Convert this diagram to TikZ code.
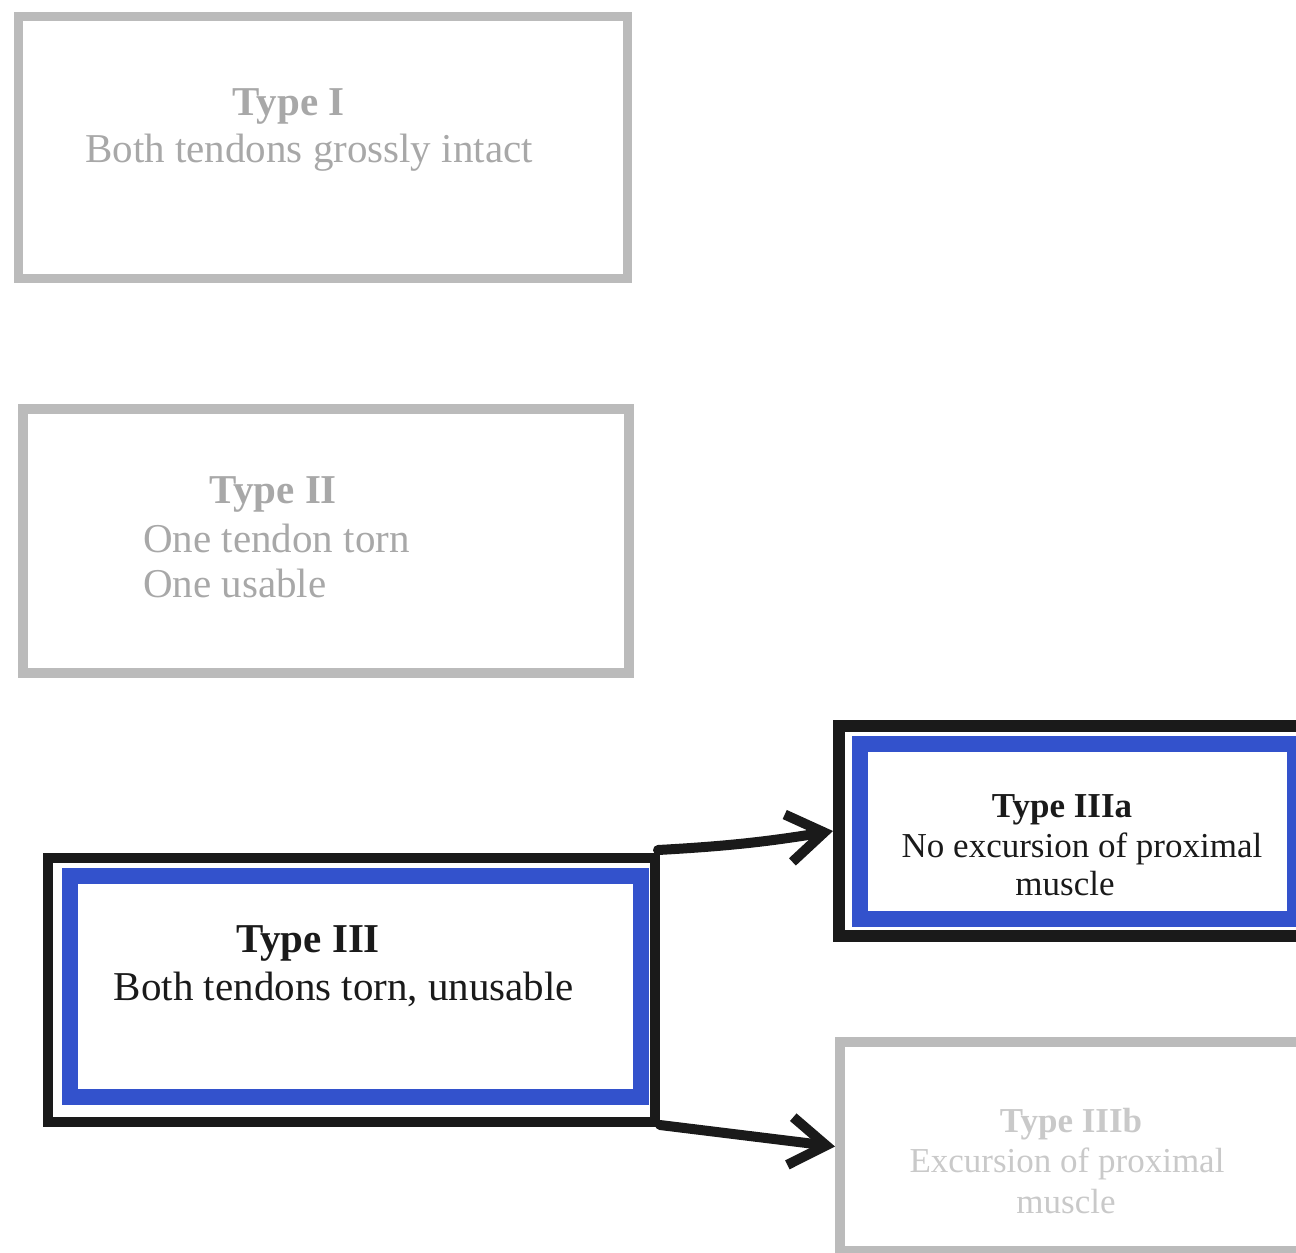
\documentclass[tikz,border=0pt]{standalone}
\usepackage{fontspec}
\setmainfont{Liberation Serif}
\usetikzlibrary{arrows.meta}
\definecolor{frameGrey}{HTML}{BBBBBB}
\definecolor{textGrey}{HTML}{A8A8A8}
\definecolor{paleGrey}{HTML}{C9C9C9}
\definecolor{typeBlue}{HTML}{3352CC}
\definecolor{frameBlack}{HTML}{1A1A1A}
\newcommand\bigsize{\fontsize{41}{48}\selectfont}
\newcommand\smallsize{\fontsize{35}{40}\selectfont}

\begin{document}
\begin{tikzpicture}[x=1pt,y=-1pt,
  greybox/.style={draw=frameGrey,line width=9pt,rectangle,inner sep=0pt},
  blackbox/.style={draw=frameBlack,line width=10pt,rectangle,inner sep=0pt},
  bluebox/.style={draw=typeBlue,line width=16pt,rectangle,inner sep=0pt},
  bigline/.style={font=\bigsize,inner sep=0pt,anchor=base},
  bigtitle/.style={font=\bigsize\bfseries,inner sep=0pt,anchor=base},
  smallline/.style={font=\smallsize,inner sep=0pt,anchor=base},
  smalltitle/.style={font=\smallsize\bfseries,inner sep=0pt,anchor=base},
  arrowline/.style={draw=frameBlack,line width=10pt,line cap=round,-{Straight Barb[length=36pt,width=48pt]}}]
\useasboundingbox (0,0) rectangle (1296,1253);
\clip (0,0) rectangle (1296,1253);

\node[greybox,minimum width=609pt,minimum height=262pt] (typeI) at (322.5,147) {};
\node[bigtitle,text=textGrey] (typeI-title) at (288.5,115) {Type I};
\node[bigline,text=textGrey] (typeI-text) at (309,162) {Both tendons grossly intact};

\node[greybox,line width=10pt,minimum width=606pt,minimum height=264pt] (typeII) at (326,541) {};
\node[bigtitle,text=textGrey] (typeII-title) at (273,503) {Type II};
\node[bigline,text=textGrey,anchor=base west] (typeII-torn) at (143,552) {One tendon torn};
\node[bigline,text=textGrey,anchor=base west] (typeII-usable) at (143,597) {One usable};

\node[blackbox,minimum width=607pt,minimum height=264pt] (typeIII) at (351.5,990) {};
\node[bluebox,minimum width=571pt,minimum height=221pt] (typeIII-inner) at (355.5,986.5) {};
\node[bigtitle,text=frameBlack] (typeIII-title) at (308,952) {Type III};
\node[bigline,text=frameBlack] (typeIII-text) at (344,1000) {Both tendons torn, unusable};

\node[blackbox,line width=12pt,minimum width=474pt,minimum height=210pt] (typeIIIa) at (1076,831) {};
\node[bluebox,minimum width=435pt,minimum height=175pt] (typeIIIa-inner) at (1077.5,831) {};
\node[smalltitle,text=frameBlack] (typeIIIa-title) at (1062,817) {Type IIIa};
\node[smallline,text=frameBlack] (typeIIIa-text) at (1082,857) {No excursion of proximal};
\node[smallline,text=frameBlack] (typeIIIa-muscle) at (1065,895) {muscle};

\node[greybox,line width=10pt,minimum width=470pt,minimum height=209pt] (typeIIIb) at (1075,1146.5) {};
\node[smalltitle,text=paleGrey] (typeIIIb-title) at (1071,1132) {Type IIIb};
\node[smallline,text=paleGrey] (typeIIIb-text) at (1067,1172) {Excursion of proximal};
\node[smallline,text=paleGrey] (typeIIIb-muscle) at (1066,1213) {muscle};

\draw[arrowline] ([shift={(-2,-3)}]typeIII.north east) to[bend right=3] (typeIIIa.west);
\draw[arrowline] ([shift={(0,-2)}]typeIII.south east) -- (typeIIIb.west);
\end{tikzpicture}
\end{document}
